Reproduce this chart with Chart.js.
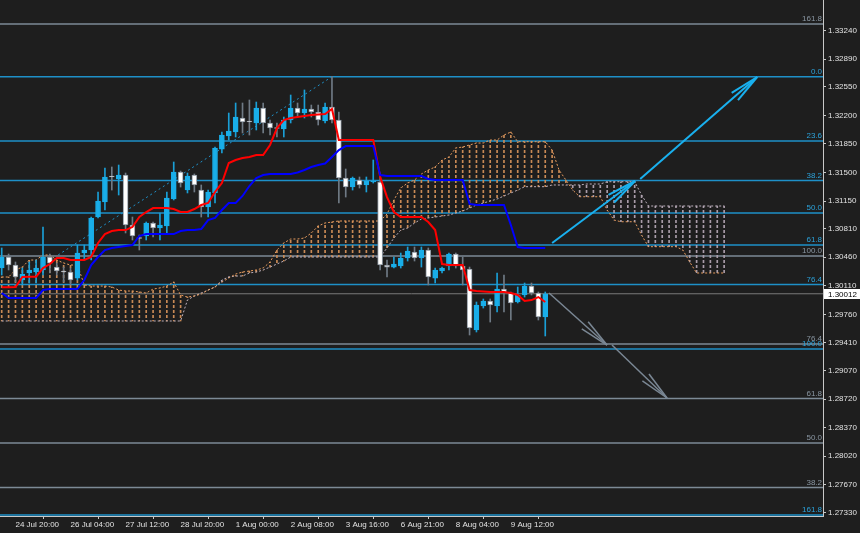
<!DOCTYPE html>
<html>
<head>
<meta charset="utf-8">
<script src="https://cdn.jsdelivr.net/npm/chart.js@4.4.1/dist/chart.umd.min.js"></script>
<style>
  html, body { margin: 0; padding: 0; background: #1e1e1e; }
  canvas { display: block; }
</style>
</head>
<body>
<canvas id="chart" width="860" height="533"></canvas>
<script>
// H4 candles, index 0..79
const OPEN = [1.30328,1.30463,1.30365,1.30181,1.30267,1.30279,1.30304,1.30463,1.30340,1.30285,
  1.30279,1.30205,1.30512,1.30549,1.30954,1.31138,1.31451,1.31420,1.31469,1.30856,
  1.30696,1.30721,1.30880,1.30819,1.30844,1.31175,1.31506,1.31285,1.31469,1.31285,
  1.31077,1.31249,1.31788,1.31948,1.31997,1.32169,1.32126,1.32108,1.32292,1.32108,
  1.32046,1.32034,1.32144,1.32292,1.32230,1.32279,1.32243,1.32132,1.32304,1.32144,
  1.31433,1.31322,1.31408,1.31347,1.31384,1.31384,1.30365,1.30340,1.30353,1.30451,
  1.30524,1.30451,1.30549,1.30205,1.30291,1.30353,1.30500,1.30353,1.30316,1.29567,
  1.29862,1.29923,1.29862,1.30070,1.30021,1.29911,1.29997,1.30107,1.30021,1.29727];
const HIGH = [1.30574,1.30500,1.30402,1.30328,1.30402,1.30426,1.30831,1.30500,1.30389,1.30340,
  1.30328,1.30610,1.30610,1.30954,1.31261,1.31555,1.31568,1.31592,1.31494,1.30954,
  1.30733,1.30893,1.30893,1.31003,1.31261,1.31629,1.31518,1.31494,1.31482,1.31347,
  1.31285,1.31813,1.31997,1.32230,1.32353,1.32353,1.32390,1.32365,1.32353,1.32144,
  1.32108,1.32181,1.32451,1.32353,1.32513,1.32328,1.32328,1.32353,1.32676,1.32243,
  1.31543,1.31445,1.31445,1.31445,1.31654,1.31494,1.30426,1.30463,1.30512,1.30586,
  1.30586,1.30586,1.30574,1.30328,1.30340,1.30512,1.30512,1.30463,1.30340,1.29911,
  1.29948,1.29948,1.30267,1.30242,1.30034,1.30095,1.30144,1.30144,1.30034,1.30034];
const LOW = [1.30242,1.30304,1.30156,1.30120,1.30144,1.30144,1.30242,1.30267,1.30242,1.30156,
  1.30120,1.30181,1.30426,1.30426,1.30942,1.31040,1.31285,1.31224,1.30758,1.30672,
  1.30549,1.30672,1.30709,1.30672,1.30758,1.31163,1.31322,1.31249,1.31261,1.30954,
  1.30954,1.31126,1.31739,1.31899,1.31936,1.31985,1.31960,1.32022,1.31985,1.31960,
  1.31936,1.31936,1.32108,1.32181,1.32169,1.32181,1.32083,1.32108,1.32108,1.31126,
  1.31199,1.31285,1.31310,1.31261,1.31371,1.30304,1.30218,1.30328,1.30328,1.30414,
  1.30414,1.30340,1.30120,1.30144,1.30267,1.30304,1.30328,1.30120,1.29506,1.29543,
  1.29837,1.29665,1.29788,1.29788,1.29690,1.29899,1.29972,1.29997,1.29690,1.29494];
const CLOSE = [1.30463,1.30365,1.30218,1.30254,1.30304,1.30328,1.30463,1.30389,1.30291,1.30279,
  1.30181,1.30512,1.30549,1.30942,1.31150,1.31445,1.31445,1.31469,1.30856,1.30721,
  1.30690,1.30880,1.30819,1.30856,1.31187,1.31506,1.31371,1.31457,1.31347,1.31077,
  1.31261,1.31801,1.31960,1.32009,1.32181,1.32120,1.32120,1.32292,1.32108,1.32046,
  1.32040,1.32144,1.32292,1.32230,1.32279,1.32243,1.32144,1.32304,1.32144,1.31433,
  1.31322,1.31433,1.31347,1.31396,1.31390,1.30365,1.30340,1.30377,1.30451,1.30537,
  1.30451,1.30549,1.30218,1.30304,1.30328,1.30500,1.30353,1.30304,1.29592,1.29874,
  1.29923,1.29874,1.30070,1.30021,1.29899,1.29997,1.30107,1.30021,1.29727,1.30012];

// Ichimoku
const TENKAN = [1.30091,1.30091,1.30095,1.30218,1.30221,1.30221,1.30328,1.30377,1.30451,1.30451,
  1.30426,1.30426,1.30426,1.30463,1.30635,1.30745,1.30782,1.30794,1.30794,1.30831,
  1.30954,1.31015,1.31064,1.31064,1.31064,1.31052,1.31015,1.31015,1.31052,1.31101,
  1.31126,1.31261,1.31371,1.31617,1.31654,1.31678,1.31690,1.31715,1.31715,1.31838,
  1.32046,1.32144,1.32169,1.32181,1.32193,1.32206,1.32212,1.32218,1.32279,1.31899,
  1.31899,1.31899,1.31899,1.31899,1.31899,1.31449,1.31199,1.31015,1.30954,1.30954,
  1.30954,1.30954,1.30893,1.30794,1.30377,1.30365,1.30365,1.30365,1.30058,1.30046,
  1.30040,1.30034,1.30034,1.30034,1.30021,1.29997,1.29923,1.29935,1.29972,1.29911];
const KIJUN = [1.30021,1.29960,1.29960,1.29960,1.29960,1.29960,1.30058,1.30070,1.30070,1.30070,
  1.30070,1.30070,1.30181,1.30365,1.30463,1.30549,1.30574,1.30586,1.30598,1.30610,
  1.30721,1.30745,1.30745,1.30745,1.30745,1.30745,1.30782,1.30794,1.30794,1.30807,
  1.30917,1.30942,1.31040,1.31126,1.31126,1.31212,1.31334,1.31433,1.31469,1.31482,
  1.31482,1.31482,1.31482,1.31500,1.31531,1.31568,1.31592,1.31611,1.31690,1.31776,
  1.31825,1.31825,1.31825,1.31825,1.31825,1.31469,1.31457,1.31457,1.31457,1.31457,
  1.31457,1.31457,1.31420,1.31408,1.31408,1.31408,1.31408,1.31408,1.31114,1.31101,
  1.31101,1.31101,1.31101,1.31101,1.30856,1.30586,1.30574,1.30574,1.30574,1.30574];
// senkou spans, already shifted 26 bars forward (index 0..105)
const SPAN_A = [1.30218,1.30218,1.30304,1.30340,1.30426,1.30426,1.30488,1.30488,1.30426,1.30389,
  1.30365,1.30365,1.30120,1.30107,1.30107,1.30107,1.30095,1.30058,1.30046,1.30046,
  1.30034,1.30021,1.30070,1.30083,1.30107,1.30156,1.29997,1.29972,1.29985,1.30009,
  1.30058,1.30095,1.30156,1.30205,1.30254,1.30279,1.30291,1.30304,1.30328,1.30402,
  1.30549,1.30635,1.30684,1.30684,1.30696,1.30758,1.30844,1.30880,1.30893,1.30905,
  1.30905,1.30905,1.30905,1.30905,1.30905,1.30905,1.30991,1.31163,1.31310,1.31371,
  1.31408,1.31482,1.31531,1.31568,1.31654,1.31690,1.31801,1.31813,1.31838,1.31862,
  1.31862,1.31899,1.31899,1.31960,1.31997,1.31878,1.31878,1.31878,1.31878,1.31878,
  1.31776,1.31531,1.31408,1.31285,1.31203,1.31203,1.31203,1.31203,1.31040,1.30917,
  1.30896,1.30896,1.30896,1.30733,1.30590,1.30590,1.30590,1.30590,1.30590,1.30549,
  1.30402,1.30267,1.30267,1.30267,1.30267,1.30267];
const SPAN_B = [1.29678,1.29678,1.29678,1.29678,1.29678,1.29678,1.29678,1.29678,1.29678,1.29678,
  1.29678,1.29678,1.29678,1.29678,1.29678,1.29678,1.29678,1.29678,1.29678,1.29678,
  1.29678,1.29678,1.29678,1.29678,1.29678,1.29678,1.29678,1.29936,1.29985,1.30021,
  1.30058,1.30095,1.30181,1.30218,1.30230,1.30230,1.30267,1.30279,1.30304,1.30340,
  1.30377,1.30414,1.30463,1.30463,1.30463,1.30463,1.30463,1.30463,1.30463,1.30463,
  1.30463,1.30463,1.30463,1.30463,1.30463,1.30463,1.30574,1.30696,1.30794,1.30819,
  1.30880,1.30929,1.30942,1.30954,1.30966,1.30979,1.31003,1.31028,1.31064,1.31101,
  1.31126,1.31150,1.31175,1.31212,1.31249,1.31285,1.31326,1.31326,1.31326,1.31326,
  1.31347,1.31347,1.31347,1.31347,1.31347,1.31359,1.31359,1.31359,1.31387,1.31387,
  1.31387,1.31387,1.31387,1.31224,1.31089,1.31089,1.31089,1.31089,1.31089,1.31089,
  1.31089,1.31089,1.31089,1.31089,1.31089,1.31089];

// fibonacci levels
const BLUE_FIB_LEVELS = ['0.0','23.6','38.2','50.0','61.8','76.4','100.0','161.8'];
const BLUE_FIB_PRICES = [1.32676,1.31887,1.31402,1.31003,1.30610,1.30126,1.29334,1.27297];
const GRAY_FIB_LEVELS = ['161.8','100.0','76.4','61.8','50.0','38.2'];
const GRAY_FIB_PRICES = [1.33322,1.30475,1.29395,1.28727,1.28180,1.27634];

// drawn objects (bar index, price)
const TREND = [{x: 8.2, y: 1.30488}, {x: 48, y: 1.32676}];
const BLUE_ARROWS = [
  [{x: 80.0, y: 1.30635}, {x: 92.05, y: 1.31396}],
  [{x: 92.8, y: 1.31420}, {x: 109.8, y: 1.32672}]
];
const GRAY_ARROWS = [
  [{x: 79.55, y: 1.30021}, {x: 87.98, y: 1.29383}],
  [{x: 88.7, y: 1.29383}, {x: 96.7, y: 1.28733}]
];

// axes
const TIME_TICKS = [2, 10, 18, 26, 34, 42, 50, 58, 66, 74];
const TIME_LABELS = ['24 Jul 20:00','26 Jul 04:00','27 Jul 12:00','28 Jul 20:00','1 Aug 00:00',
  '2 Aug 08:00','3 Aug 16:00','6 Aug 21:00','8 Aug 04:00','9 Aug 12:00'];
const PRICE_TICKS = [1.33240,1.32890,1.32550,1.32200,1.31850,1.31500,1.31150,1.30810,1.30460,
  1.30110,1.29760,1.29410,1.29070,1.28720,1.28370,1.28020,1.27670,1.27330];
const X_MIN = -0.25, X_MAX = 119.37;
const Y_MIN = 1.27285, Y_MAX = 1.33617;

const BG = '#1e1e1e';
const TEXT = '#e2e2e2';
const AXIS = '#c8c8c8';
const UP = '#19aee9', DOWN = '#ffffff';
const FIB_BLUE = '#1e90c8', FIB_GRAY = '#7d8a96';
const FONT = '8px "Liberation Sans", Arial, sans-serif';
const LAST = CLOSE[CLOSE.length - 1];

Chart.defaults.font.family = '"Liberation Sans", Arial, sans-serif';
Chart.defaults.font.size = 8;

const canvas = document.getElementById('chart');
const ctx = canvas.getContext('2d');

function hatch(color) {
  const c = document.createElement('canvas');
  c.width = 1; c.height = 5;
  const g = c.getContext('2d');
  g.fillStyle = color;
  g.fillRect(0, 0, 1, 3);
  return ctx.createPattern(c, 'repeat');
}
const hatchA = hatch('#c98a55');
const hatchB = hatch('#a99ca9');

const isUp = OPEN.map((o, i) => CLOSE[i] > o);
const pts = arr => arr.map((v, i) => ({x: i, y: v}));

const background = {
  id: 'background',
  beforeDraw(chart) {
    const c = chart.ctx;
    c.save();
    c.fillStyle = BG;
    c.fillRect(0, 0, chart.width, chart.height);
    c.restore();
  }
};

const fibo = {
  id: 'fibo',
  beforeDatasetsDraw(chart) {
    const c = chart.ctx, a = chart.chartArea, y = chart.scales.y;
    c.save();
    const lines = (prices, color, w) => {
      c.strokeStyle = color;
      c.lineWidth = w;
      prices.forEach(p => {
        const py = y.getPixelForValue(p);
        c.beginPath(); c.moveTo(a.left, py); c.lineTo(a.right, py); c.stroke();
      });
    };
    lines(GRAY_FIB_PRICES, FIB_GRAY, 1.5);
    lines(BLUE_FIB_PRICES, FIB_BLUE, 1.5);
    // bid line
    lines([LAST], '#7a7a7a', 1);
    c.restore();
  },
  afterDatasetsDraw(chart) {
    const c = chart.ctx, a = chart.chartArea, y = chart.scales.y;
    c.save();
    c.font = FONT;
    c.textAlign = 'right';
    c.textBaseline = 'bottom';
    const labels = (prices, names, color) => {
      c.fillStyle = color;
      prices.forEach((p, i) => c.fillText(names[i], a.right - 1, y.getPixelForValue(p) - 1));
    };
    labels(GRAY_FIB_PRICES, GRAY_FIB_LEVELS, '#8a97a3');
    labels(BLUE_FIB_PRICES, BLUE_FIB_LEVELS, '#2ba3dc');
    // arrow heads
    chart.data.datasets.forEach((ds, k) => {
      if (!ds.arrow) return;
      const m = chart.getDatasetMeta(k).data;
      const p0 = m[m.length - 2], p1 = m[m.length - 1];
      const ang = Math.atan2(p0.y - p1.y, p0.x - p1.x);
      c.strokeStyle = ds.borderColor;
      c.lineWidth = ds.borderWidth;
      [-0.16, 0.16].forEach(d => {
        c.beginPath();
        c.moveTo(p1.x, p1.y);
        c.lineTo(p1.x + 30 * Math.cos(ang + d), p1.y + 30 * Math.sin(ang + d));
        c.stroke();
      });
    });
    c.restore();
  },
  afterDraw(chart) {
    const c = chart.ctx, a = chart.chartArea, y = chart.scales.y;
    const py = y.getPixelForValue(LAST);
    c.save();
    c.fillStyle = '#ffffff';
    c.fillRect(a.right + 1, Math.round(py) - 5, chart.width - a.right - 1, 10);
    c.fillStyle = '#000000';
    c.font = FONT;
    c.textAlign = 'left';
    c.textBaseline = 'middle';
    c.fillText(LAST.toFixed(5), a.right + 5, Math.round(py) + 0.5);
    c.restore();
  }
};

const arrowSet = (list, color, width) => list.map(seg => ({
  type: 'line', data: seg, borderColor: color, borderWidth: width,
  pointRadius: 0, order: 0, arrow: true
}));

new Chart(ctx, {
  type: 'bar',
  data: {
    datasets: [
      {
        type: 'bar', label: 'Kumo',
        data: SPAN_A.map((v, i) => ({x: i, y: [v, SPAN_B[i]]})),
        backgroundColor: SPAN_A.map((v, i) => v >= SPAN_B[i] ? hatchA : hatchB),
        barThickness: 1, grouped: false, borderWidth: 0, order: 6
      },
      {
        type: 'line', label: 'Senkou Span A', data: pts(SPAN_A),
        borderColor: '#e89c5e', borderWidth: 1, borderDash: [2, 2],
        pointRadius: 0, order: 5
      },
      {
        type: 'line', label: 'Senkou Span B', data: pts(SPAN_B),
        borderColor: '#bdb0bd', borderWidth: 1, borderDash: [2, 2],
        pointRadius: 0, order: 5
      },
      {
        type: 'line', label: 'trend', data: TREND,
        borderColor: FIB_BLUE, borderWidth: 1, borderDash: [2, 3],
        pointRadius: 0, order: 4
      },
      {
        type: 'bar', label: 'wick',
        data: LOW.map((v, i) => ({x: i, y: [v, HIGH[i]]})),
        backgroundColor: isUp.map(u => u ? '#1a9fd6' : '#6f7a85'),
        barThickness: 1, grouped: false, borderWidth: 0, order: 3
      },
      {
        type: 'bar', label: 'body',
        data: OPEN.map((v, i) => ({x: i, y: [v, CLOSE[i]]})),
        backgroundColor: isUp.map(u => u ? UP : DOWN),
        borderColor: isUp.map(u => u ? UP : '#8a949e'),
        borderWidth: 1, borderSkipped: false, minBarLength: 1,
        barThickness: 5, grouped: false, order: 2
      },
      {
        type: 'line', label: 'Kijun-sen', data: pts(KIJUN),
        borderColor: '#0000ff', borderWidth: 2, pointRadius: 0, order: 1
      },
      {
        type: 'line', label: 'Tenkan-sen', data: pts(TENKAN),
        borderColor: '#ff0000', borderWidth: 2, pointRadius: 0, order: 1
      },
      ...arrowSet(BLUE_ARROWS, '#19b0ee', 2),
      ...arrowSet(GRAY_ARROWS, '#7a8794', 1.5)
    ]
  },
  options: {
    responsive: false,
    animation: false,
    events: [],
    layout: { padding: 0 },
    plugins: { legend: { display: false }, tooltip: { enabled: false } },
    scales: {
      x: {
        type: 'linear', min: X_MIN, max: X_MAX, offset: false,
        afterBuildTicks: s => { s.ticks = TIME_TICKS.map(v => ({value: v})); },
        afterFit: s => { s.height = 17; s.paddingLeft = 0; s.paddingRight = 0; },
        ticks: {
          callback: (v, i) => TIME_LABELS[i],
          align: 'start', maxRotation: 0, minRotation: 0, autoSkip: false,
          color: TEXT, padding: 1, font: { size: 8 }
        },
        grid: { drawOnChartArea: false, tickLength: 3, color: AXIS },
        border: { display: true, color: AXIS }
      },
      y: {
        position: 'right', min: Y_MIN, max: Y_MAX,
        afterBuildTicks: s => { s.ticks = PRICE_TICKS.map(v => ({value: v})); },
        afterFit: s => { s.width = 37; s.paddingTop = 0; s.paddingBottom = 0; },
        ticks: {
          callback: v => v.toFixed(5),
          color: TEXT, padding: 2, font: { size: 8 }
        },
        grid: { drawOnChartArea: false, tickLength: 3, color: AXIS },
        border: { display: true, color: AXIS }
      }
    }
  },
  plugins: [background, fibo]
});
</script>
</body>
</html>
